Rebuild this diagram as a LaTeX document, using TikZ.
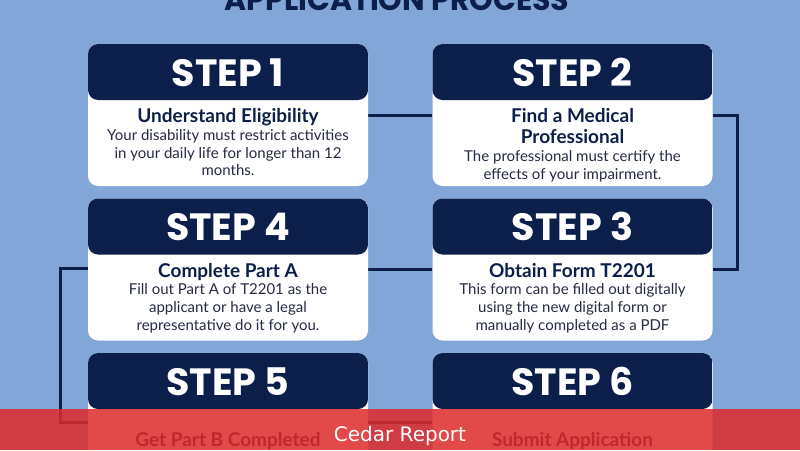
\documentclass[tikz,border=0pt]{standalone}
\usepackage{fontspec}
\usetikzlibrary{backgrounds}
\setmainfont{Lato}
\newfontfamily\headfont{Poppins}
\newfontfamily\bannerfont{DejaVu Sans}
\definecolor{bg}{HTML}{83A6D9}
\definecolor{navy}{HTML}{0C1F4A}
\definecolor{bodytext}{HTML}{262B42}
\definecolor{bannerred}{RGB}{221,42,42}
\tikzset{
  card/.style={fill=white, rounded corners=10pt, minimum width=280pt, minimum height=142pt, inner sep=0pt,
    path picture={\fill[navy] (path picture bounding box.north west) rectangle ([yshift=-56pt]path picture bounding box.north east);}},
  steplabel/.style={text=white, font=\headfont\bfseries\fontsize{38}{40}\selectfont, inner sep=0pt},
  cardtext/.style={text=bodytext, align=center, inner sep=0pt, anchor=north, font=\fontsize{15}{17.7}\selectfont},
  link/.style={draw=navy, line width=3pt},
}
\newcommand{\cardtitle}[1]{{\bfseries\color{navy}\fontsize{19}{21}\selectfont #1}}
\begin{document}
\begin{tikzpicture}[x=1pt,y=-1pt]
\useasboundingbox (0,0) rectangle (800,450);
\clip (0,0) rectangle (800,450);
\node[text=navy, font=\headfont\bfseries\fontsize{30}{32}\selectfont, anchor=base] (title) at (397,10) {APPLICATION PROCESS};
\node[card] (s1) at (228,115) {};
\node[card] (s2) at (572.5,115) {};
\node[card] (s3) at (572.5,269.5) {};
\node[card] (s4) at (228,269.5) {};
\node[card] (s5) at (228,424) {};
\node[card] (s6) at (572.5,424) {};
\begin{scope}[on background layer]
\fill[bg] (0,0) rectangle (800,450);
\path[link] (s1.east) -- (s2.west);
\path[link] (s2.east) -- ++(25,0) |- (s3.east);
\path[link] (s3.west) -- (s4.east);
\path[link] ([yshift=1pt]s4.west) -- ++(-27,0) |- ([yshift=2pt]s5.west);
\path[link] ([yshift=2pt]s5.east) -- ([yshift=2pt]s6.west);
\end{scope}
\node[steplabel] (h1) at ([yshift=-28.5pt]s1.north) {STEP 1};
\node[steplabel] (h2) at ([yshift=-28.5pt]s2.north) {STEP 2};
\node[steplabel] (h3) at ([yshift=-28.5pt]s3.north) {STEP 3};
\node[steplabel] (h4) at ([yshift=-28.5pt]s4.north) {STEP 4};
\node[steplabel] (h5) at ([yshift=-28.5pt]s5.north) {STEP 5};
\node[steplabel] (h6) at ([yshift=-28.5pt]s6.north) {STEP 6};
\node[cardtext] (t1) at ([yshift=-64.5pt]s1.north) {\cardtitle{Understand Eligibility}\\Your disability must restrict activities\\in your daily life for longer than 12\\months.};
\node[cardtext] (t2) at ([yshift=-64.5pt]s2.north) {\cardtitle{Find a Medical}\\[3.5pt]\cardtitle{Professional}\\The professional must certify the\\effects of your impairment.};
\node[cardtext] (t3) at ([yshift=-64.5pt]s3.north) {\cardtitle{Obtain Form T2201}\\This form can be filled out digitally\\using the new digital form or\\manually completed as a PDF};
\node[cardtext] (t4) at ([yshift=-64.5pt]s4.north) {\cardtitle{Complete Part A}\\Fill out Part A of T2201 as the\\applicant or have a legal\\representative do it for you.};
\node[cardtext] (t5) at ([yshift=-79pt]s5.north) {\cardtitle{Get Part B Completed}};
\node[cardtext] (t6) at ([yshift=-79pt]s6.north) {\cardtitle{Submit Application}};
\fill[bannerred, opacity=0.85] (0,409) rectangle (800,450);
\node[text=white, font=\bannerfont\fontsize{20}{22}\selectfont, anchor=base] (banner) at (400,441) {Cedar Report};
\end{tikzpicture}
\end{document}
